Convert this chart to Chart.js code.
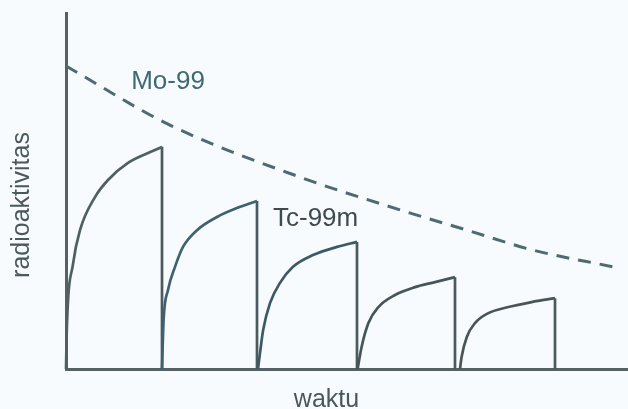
<!DOCTYPE html>
<html>
<head>
<meta charset="utf-8">
<script src="https://cdn.jsdelivr.net/npm/chart.js@4.4.1/dist/chart.umd.min.js"></script>
<style>
  html, body { margin: 0; padding: 0; background: #f7fbfd; }
  #wrap { width: 628px; height: 409px; position: relative; }
</style>
</head>
<body>
<div id="wrap"><canvas id="c" width="628" height="409"></canvas></div>
<script>
// ---- Data: time in hours, activity in arbitrary units ----
const moTime     = [0, 26, 58.5, 83.5, 100.25, 116.75, 136.75];
const moActivity = [85.1, 68.5, 53.9, 44.7, 39.0, 33.4, 28.7];

const tc1Time     = [0, 0.2, 1.8, 3.5, 7.25, 10.5, 15.5, 22.25, 24];
const tc1Activity = [0, 11.0, 29.8, 39.0, 48.3, 53.1, 57.9, 61.5, 62.4];

const tc2Time     = [24, 24.4, 25.5, 27.25, 29.25, 32.75, 37.75, 42.75, 47.75];
const tc2Activity = [0, 13.8, 22.2, 28.7, 34.3, 39.0, 42.7, 45.2, 47.2];

const tc3Time     = [48, 48.5, 49.3, 51, 53.5, 56.75, 61.75, 67.75, 72.75];
const tc3Activity = [0, 4.5, 11.0, 18.5, 24.2, 28.7, 32.0, 34.3, 35.7];

const tc4Time     = [72.9, 73.9, 75.6, 78.1, 82.25, 87.25, 92.25, 97.25];
const tc4Activity = [0, 6.2, 12.9, 17.4, 20.8, 23.0, 24.4, 25.8];

const tc5Time     = [98.5, 98.9, 100.2, 102.25, 105.6, 110.6, 116.4, 122.25];
const tc5Activity = [0, 3.4, 9.0, 12.9, 15.7, 17.4, 18.8, 19.9];

const seriesLabels = ["Mo-99", "Tc-99m"];
const axisTitles = { x: "waktu", y: "radioaktivitas" };

// ---- Build datasets ----
const toPts = (t, a) => t.map((v, i) => ({ x: v, y: a[i] }));
const tcCycles = [
  [tc1Time, tc1Activity],
  [tc2Time, tc2Activity],
  [tc3Time, tc3Activity],
  [tc4Time, tc4Activity],
  [tc5Time, tc5Activity]
];
const lineColors = ['#505f62', '#3f6170', '#3c5a66', '#45555a', '#4a5558'];

// vertical elution drops at the end of each cycle
const dropPts = [];
tcCycles.forEach(([t, a]) => {
  const last = t.length - 1;
  dropPts.push({ x: t[last], y: a[last] }, { x: t[last], y: 0 }, { x: t[last], y: null });
});

const datasets = [{
  label: seriesLabels[0],
  data: toPts(moTime, moActivity),
  borderColor: '#4e6a72',
  borderWidth: 3,
  borderDash: [13, 9],
  cubicInterpolationMode: 'monotone',
  pointRadius: 0,
  clip: false
}];
tcCycles.forEach(([t, a], i) => {
  datasets.push({
    label: seriesLabels[1],
    data: toPts(t, a),
    borderColor: lineColors[i],
    borderWidth: 2.7,
    cubicInterpolationMode: 'monotone',
    pointRadius: 0,
    clip: false
  });
});
datasets.push({
  label: seriesLabels[1] + ' (elusi)',
  data: dropPts,
  borderColor: '#4a5a5e',
  borderWidth: 2.7,
  tension: 0,
  spanGaps: false,
  pointRadius: 0,
  clip: false
});

// ---- Text labels plugin ----
const FONT = '"Liberation Sans", Arial, Helvetica, sans-serif';
const textPlugin = {
  id: 'texts',
  afterDatasetsDraw(chart) {
    const { ctx, chartArea: ca, scales: { x, y } } = chart;
    ctx.save();
    ctx.textAlign = 'center';
    ctx.textBaseline = 'middle';
    // series labels in data coordinates
    ctx.font = '26px ' + FONT;
    ctx.fillStyle = '#3f6a74';
    ctx.fillText(seriesLabels[0], x.getPixelForValue(25.5), y.getPixelForValue(80.6));
    ctx.fillStyle = '#3d4b50';
    ctx.fillText(seriesLabels[1], x.getPixelForValue(62.4), y.getPixelForValue(42.1));
    // axis titles
    ctx.font = '25px ' + FONT;
    ctx.fillStyle = '#4a585c';
    ctx.fillText(axisTitles.x, ca.left + 260.5, ca.bottom + 31);
    ctx.translate(ca.left - 44, ca.top + 192);
    ctx.rotate(-Math.PI / 2);
    ctx.fillText(axisTitles.y, 0, 0);
    ctx.restore();
  }
};

const bgPlugin = {
  id: 'bg',
  beforeDraw(chart) {
    const { ctx, width, height } = chart;
    ctx.save();
    ctx.fillStyle = '#f7fbfd';
    ctx.fillRect(0, 0, width, height);
    ctx.restore();
  }
};

new Chart(document.getElementById('c'), {
  type: 'line',
  data: { datasets },
  plugins: [bgPlugin, textPlugin],
  options: {
    responsive: false,
    animation: false,
    devicePixelRatio: 1,
    layout: { padding: { top: 13, right: 0, left: 0, bottom: 0 } },
    plugins: { legend: { display: false }, tooltip: { enabled: false } },
    scales: {
      x: {
        type: 'linear',
        min: 0, max: 140.5,
        grid: { display: false },
        ticks: { display: false },
        border: { display: true, color: '#566164', width: 3 },
        afterFit(s) { s.height = 40; }
      },
      y: {
        min: 0, max: 100,
        grid: { display: false },
        ticks: { display: false },
        border: { display: true, color: '#566164', width: 3 },
        afterFit(s) { s.width = 66; }
      }
    }
  }
});
</script>
</body>
</html>
